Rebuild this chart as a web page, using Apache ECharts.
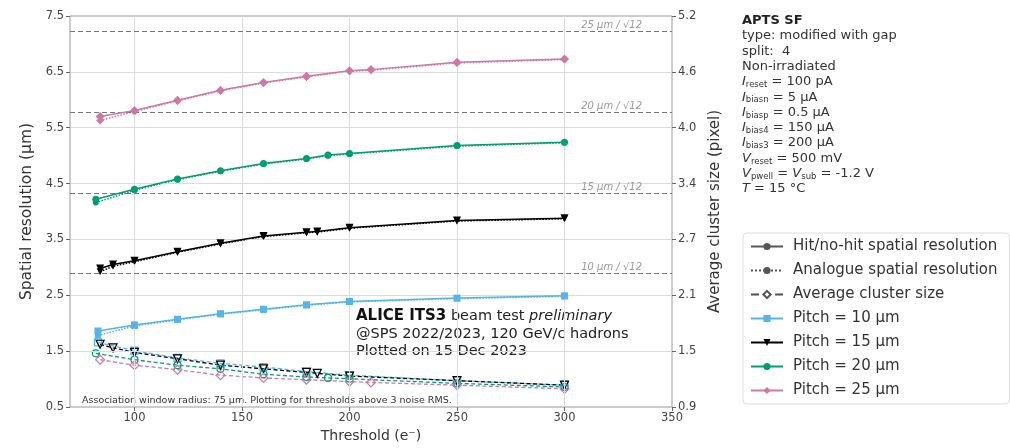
<!DOCTYPE html>
<html>
<head>
<meta charset="utf-8">
<script src="https://cdn.jsdelivr.net/npm/echarts@6/dist/echarts.min.js"></script>
<style>
html,body{margin:0;padding:0;background:#fff;}
#c{width:1010px;height:448px;}
</style>
</head>
<body>
<div id="c"></div>
<script>
// ---------- data ----------
const thr10 = [83, 100, 120, 140, 160, 180, 200, 250, 300];
const hit10 = [1.86, 1.97, 2.07, 2.17, 2.25, 2.33, 2.39, 2.45, 2.49];
const ana10 = [1.78, 1.95, 2.06, 2.16, 2.24, 2.32, 2.38, 2.44, 2.48];
const cls10 = [1.61, 1.52, 1.44, 1.38, 1.34, 1.29, 1.25, 1.19, 1.14];

const thr15 = [84, 90, 100, 120, 140, 160, 180, 185, 200, 250, 300];
const hit15 = [2.98, 3.05, 3.12, 3.28, 3.43, 3.56, 3.63, 3.64, 3.71, 3.84, 3.88];
const ana15 = [2.92, 3.02, 3.10, 3.27, 3.42, 3.55, 3.62, 3.63, 3.70, 3.83, 3.87];
const cls15 = [1.59, 1.55, 1.50, 1.43, 1.36, 1.32, 1.28, 1.27, 1.24, 1.19, 1.14];

const thr20 = [82, 100, 120, 140, 160, 180, 190, 200, 250, 300];
const hit20 = [4.22, 4.40, 4.58, 4.73, 4.86, 4.95, 5.01, 5.04, 5.18, 5.24];
const ana20 = [4.16, 4.38, 4.57, 4.72, 4.85, 4.94, 5.00, 5.03, 5.17, 5.23];
const cls20 = [1.49, 1.42, 1.36, 1.32, 1.26, 1.23, 1.22, 1.21, 1.16, 1.12];

const thr25 = [84, 100, 120, 140, 160, 180, 200, 210, 250, 300];
const hit25 = [5.70, 5.81, 5.99, 6.17, 6.31, 6.42, 6.52, 6.54, 6.67, 6.73];
const ana25 = [5.63, 5.79, 5.98, 6.16, 6.30, 6.41, 6.51, 6.53, 6.66, 6.72];
const cls25 = [1.42, 1.36, 1.31, 1.25, 1.22, 1.20, 1.18, 1.17, 1.14, 1.10];

const pitches = [10, 15, 20, 25];
const xTicks = [100, 150, 200, 250, 300, 350];
const xGrid = [100, 150, 200, 250, 300];
const leftTicks = [0.5, 1.5, 2.5, 3.5, 4.5, 5.5, 6.5, 7.5];
const leftGrid = [1.5, 2.5, 3.5, 4.5, 5.5, 6.5];
const rightTickLabels = ['0.9', '1.5', '2.1', '2.7', '3.4', '4.0', '4.6', '5.2'];
const legendNames = ['Hit/no-hit spatial resolution', 'Analogue spatial resolution', 'Average cluster size',
  'Pitch = 10 µm', 'Pitch = 15 µm', 'Pitch = 20 µm', 'Pitch = 25 µm'];

// ---------- build ----------
const X_MIN = 70, X_MAX = 350, L_MIN = 0.5, L_MAX = 7.5, R_MIN = 0.9, R_MAX = 5.2;
const rightTickVals = rightTickLabels.map((_, i) => R_MIN + i * (R_MAX - R_MIN) / (rightTickLabels.length - 1));

const FONT = 'DejaVu Sans';
const colors = {10: '#56b4e9', 15: '#000000', 20: '#009e73', 25: '#cc79a7'};
const symbols = {10: 'rect', 15: 'triangle', 20: 'circle', 25: 'diamond'};
const rot = {10: 0, 15: 180, 20: 0, 25: 0};
const sizes = {10: 7, 15: 8, 20: 7, 25: 9};
const sets = {
  10: [thr10, hit10, ana10, cls10],
  15: [thr15, hit15, ana15, cls15],
  20: [thr20, hit20, ana20, cls20],
  25: [thr25, hit25, ana25, cls25]
};
const zip = (a, b) => a.map((v, i) => [v, b[i]]);

const series = [];
// grid lines + reference lines
series.push({
  type: 'line', data: [], silent: true, z: 1, xAxisIndex: 0, yAxisIndex: 0,
  markLine: {
    silent: true, symbol: 'none', animation: false,
    lineStyle: {color: '#dcdcdc', width: 1, type: 'solid'},
    label: {show: false},
    data: xGrid.map(v => ({xAxis: v})).concat(leftGrid.map(v => ({yAxis: v})))
  }
});
series.push({
  type: 'line', data: [], silent: true, z: 2, xAxisIndex: 0, yAxisIndex: 0,
  markLine: {
    silent: true, symbol: 'none', animation: false,
    lineStyle: {color: '#777', width: 1.2, type: [5, 3]},
    label: {
      show: true, position: 'insideEndTop', distance: [30, 1],
      color: '#999', fontFamily: FONT, fontSize: 10, fontStyle: 'italic',
      formatter: p => p.data.pitch + ' µm / √12'
    },
    data: pitches.map(p => ({yAxis: p / Math.sqrt(12), pitch: p}))
  }
});

// legend style entries
const grey = '#555';
series.push({name: legendNames[0], type: 'line', data: [], color: grey, symbol: 'circle', symbolSize: 6, lineStyle: {type: 'solid', width: 1.5, color: grey}});
series.push({name: legendNames[1], type: 'line', data: [], color: grey, symbol: 'circle', symbolSize: 6, lineStyle: {type: 'dotted', width: 1.5, color: grey}});
series.push({name: legendNames[2], type: 'line', data: [], color: grey, symbol: 'emptyDiamond', symbolSize: 7, lineStyle: {type: 'dashed', width: 1.5, color: grey}});

pitches.forEach((p, k) => {
  const [t, h, a, c] = sets[p];
  const col = colors[p];
  const name = legendNames[3 + k];
  series.push({
    name, type: 'line', xAxisIndex: 0, yAxisIndex: 0, z: 5,
    data: zip(t, h), color: col, symbol: symbols[p], symbolRotate: rot[p], symbolSize: sizes[p],
    lineStyle: {width: 1.5, color: col}, itemStyle: {color: col}
  });
  series.push({
    name, type: 'line', xAxisIndex: 0, yAxisIndex: 0, z: 4,
    data: zip(t, a), color: col, symbol: symbols[p], symbolRotate: rot[p], symbolSize: sizes[p] - 1,
    lineStyle: {width: 1.5, type: 'dotted', color: col}, itemStyle: {color: col}
  });
  series.push({
    name, type: 'line', xAxisIndex: 0, yAxisIndex: 1, z: 4,
    data: zip(t, c), color: col, symbol: symbols[p], symbolRotate: rot[p], symbolSize: sizes[p],
    lineStyle: {width: 1.3, type: [4, 2.5], color: col},
    itemStyle: {color: 'rgba(255,255,255,0)', borderColor: col, borderWidth: 1.2}
  });
});

const axisLabelStyle = {color: '#444', fontFamily: FONT, fontSize: 11.5};
const option = {
  animation: false,
  backgroundColor: '#fff',
  grid: {left: 70, right: 338, top: 16, bottom: 39, show: true, borderColor: '#999', borderWidth: 1, backgroundColor: 'transparent'},
  xAxis: {
    type: 'value', min: X_MIN, max: X_MAX,
    name: 'Threshold (e⁻)', nameLocation: 'middle', nameGap: 22,
    nameTextStyle: {color: '#333', fontFamily: FONT, fontSize: 14},
    axisLine: {show: false},
    axisTick: {show: true, length: 4, lineStyle: {color: '#666'}, customValues: xTicks},
    axisLabel: Object.assign({customValues: xTicks, margin: 5}, axisLabelStyle),
    splitLine: {show: false}
  },
  yAxis: [{
    type: 'value', min: L_MIN, max: L_MAX, position: 'left',
    name: 'Spatial resolution (µm)', nameLocation: 'middle', nameGap: 32,
    nameTextStyle: {color: '#333', fontFamily: FONT, fontSize: 15.5},
    axisLine: {show: false},
    axisTick: {show: true, length: 4, lineStyle: {color: '#666'}, customValues: leftTicks},
    axisLabel: Object.assign({customValues: leftTicks, margin: 6, formatter: v => v.toFixed(1)}, axisLabelStyle),
    splitLine: {show: false}
  }, {
    type: 'value', min: R_MIN, max: R_MAX, position: 'right',
    name: 'Average cluster size (pixel)', nameLocation: 'middle', nameGap: 33, nameRotate: 90,
    nameTextStyle: {color: '#333', fontFamily: FONT, fontSize: 15},
    axisLine: {show: false},
    axisTick: {show: true, length: 4, lineStyle: {color: '#666'}, customValues: rightTickVals},
    axisLabel: Object.assign({customValues: rightTickVals, margin: 6,
      formatter: v => {
        let best = 0, d = Infinity;
        rightTickVals.forEach((t, i) => { if (Math.abs(t - v) < d) { d = Math.abs(t - v); best = i; } });
        return rightTickLabels[best];
      }}, axisLabelStyle),
    splitLine: {show: false}
  }],
  legend: {
    data: legendNames, orient: 'vertical', left: 743, top: 233,
    itemWidth: 32, itemHeight: 9, itemGap: 9,
    padding: [6, 12, 6, 7],
    borderColor: '#dddddd', borderWidth: 1, borderRadius: 4,
    textStyle: {color: '#333', fontFamily: FONT, fontSize: 15, padding: [0, 0, 0, 5]}
  },
  graphic: [{
    type: 'text', left: 742, top: 13,
    style: {
      text: '{b|APTS SF}\ntype: modified with gap\nsplit:  4\nNon-irradiated\n' +
        '{i|I}{s|reset} = 100 pA\n{i|I}{s|biasn} = 5 µA\n{i|I}{s|biasp} = 0.5 µA\n{i|I}{s|bias4} = 150 µA\n{i|I}{s|bias3} = 200 µA\n' +
        '{i|V}{s|reset} = 500 mV\n{i|V}{s|pwell} = {i|V}{s|sub} = -1.2 V\n{i|T} = 15 °C',
      font: '13px "DejaVu Sans"', fill: '#333', lineHeight: 15.3,
      rich: {
        b: {fontWeight: 'bold', fontFamily: FONT, fontSize: 13, lineHeight: 15.3, fill: '#222'},
        i: {fontStyle: 'italic', fontFamily: FONT, fontSize: 13, lineHeight: 15.3, fill: '#333'},
        s: {fontFamily: FONT, fontSize: 8.5, lineHeight: 15.3, fill: '#333', padding: [6, 0, 0, 0]}
      }
    }
  }, {
    type: 'text', left: 356, top: 309,
    style: {
      text: '{b|ALICE ITS3} {n|beam test} {i|preliminary}\n{n|@SPS 2022/2023, 120 GeV/c hadrons}\n{n|Plotted on 15 Dec 2023}',
      font: '14.5px "DejaVu Sans"', fill: '#222',
      rich: {
        b: {fontWeight: 'bold', fontFamily: FONT, fontSize: 15, lineHeight: 17.5, fill: '#111'},
        n: {fontFamily: FONT, fontSize: 14.5, lineHeight: 17.5, fill: '#222'},
        i: {fontStyle: 'italic', fontFamily: FONT, fontSize: 14.5, lineHeight: 17.5, fill: '#222'}
      }
    }
  }, {
    type: 'text', left: 82, top: 396,
    style: {
      text: 'Association window radius: 75 µm. Plotting for thresholds above 3 noise RMS.',
      font: '9.5px "DejaVu Sans"', fill: '#333'
    }
  }],
  series
};

const chart = echarts.init(document.getElementById('c'), null, {renderer: 'canvas'});
chart.setOption(option);
</script>
</body>
</html>
